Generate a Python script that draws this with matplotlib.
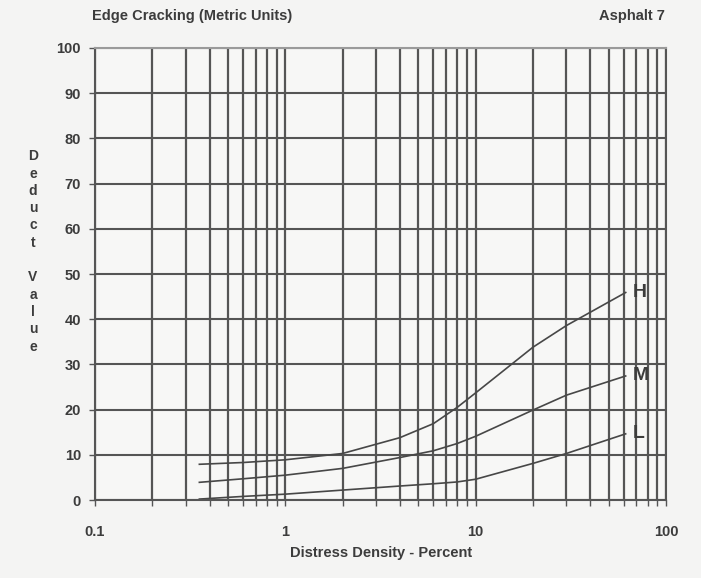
import matplotlib.pyplot as plt
from matplotlib.ticker import LogLocator, FixedLocator, NullFormatter

# Deduct value curves for edge cracking, one per severity level
density = [0.35, 0.6, 1, 2, 4, 6, 8, 10, 20, 30, 62]
deduct_high = [7.9, 8.3, 8.9, 10.3, 13.8, 16.9, 20.5, 23.7, 33.8, 38.6, 46.0]
deduct_medium = [3.9, 4.7, 5.5, 7.0, 9.4, 10.9, 12.5, 14.1, 19.9, 23.2, 27.5]
deduct_low = [0.2, 0.8, 1.3, 2.2, 3.1, 3.6, 4.0, 4.6, 8.1, 10.3, 14.7]
severity = ["H", "M", "L"]

x_ticks = [0.1, 1, 10, 100]
x_ticklabels = ["0.1", "1", "10", "100"]
y_ticks = list(range(0, 101, 10))

ink = "#3c3c3c"
grid = "#555555"
paper = "#f4f4f3"

plt.rcParams['font.family'] = ['Liberation Sans', 'DejaVu Sans']

fig = plt.figure(figsize=(7.01, 5.78), dpi=100, facecolor=paper)
ax = fig.add_axes([0.1355, 0.1349, 0.8145, 0.7821], facecolor="#f7f7f6")

ax.set_xscale("log")
ax.set_xlim(0.1, 100)
ax.set_ylim(0, 100)

# log paper: every integer step in each decade gets a line
ax.xaxis.set_major_locator(FixedLocator(x_ticks))
ax.xaxis.set_minor_locator(LogLocator(base=10, subs=range(2, 10)))
ax.xaxis.set_minor_formatter(NullFormatter())
ax.set_xticks(x_ticks)
ax.set_xticklabels(x_ticklabels)
ax.set_yticks(y_ticks)

ax.grid(True, which="both", axis="x", color=grid, lw=1.6)
ax.grid(True, which="major", axis="y", color=grid, lw=1.5)
ax.set_axisbelow(True)

for side in ["left", "bottom", "right", "top"]:
    ax.spines[side].set_color(grid)
    ax.spines[side].set_linewidth(1.5)
ax.spines["top"].set_color("#9a9a9a")

ax.tick_params(axis="both", which="both", direction="out", length=4,
               width=1.0, color=grid, labelsize=10.5, labelcolor=ink)
ax.tick_params(axis="x", which="both", pad=14)
ax.tick_params(axis="y", pad=6)
for lbl in ax.get_xticklabels() + ax.get_yticklabels():
    lbl.set_fontweight("bold")

for values, name in zip([deduct_high, deduct_medium, deduct_low], severity):
    ax.plot(density, values, color="#474747", lw=1.2, solid_capstyle="butt")
    ax.text(67, values[-1], name, ha="left", va="center", fontsize=14,
            color=ink, fontweight="bold")

fig.text(0.131, 0.972, "Edge Cracking (Metric Units)", ha="left", va="center",
         fontsize=10.5, fontweight="bold", color=ink)
fig.text(0.948, 0.972, "Asphalt 7", ha="right", va="center",
         fontsize=10.5, fontweight="bold", color=ink)

# y label stacked one letter per line
fig.text(0.047, 0.565, "\n".join("Deduct Value"), ha="center", va="center",
         fontsize=10, fontweight="bold", color=ink, linespacing=1.3)

fig.text(0.543, 0.043, "Distress Density - Percent", ha="center", va="center",
         fontsize=10.5, fontweight="bold", color=ink)

fig.savefig("out.png", dpi=100, facecolor=paper)
